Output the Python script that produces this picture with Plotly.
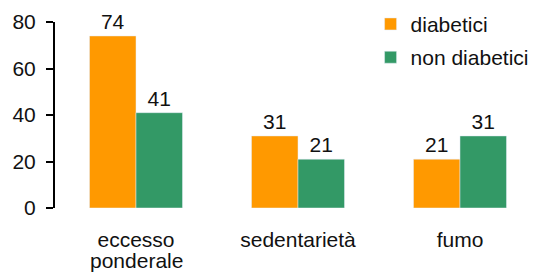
import plotly.graph_objects as go

categories = ["eccesso", "sedentarietà", "fumo"]
categories_line2 = ["ponderale", "", ""]
diabetici = [74, 31, 21]
non_diabetici = [41, 21, 31]
y_ticks = [0, 20, 40, 60, 80]

FONT = "Liberation Sans, Arial, Helvetica, sans-serif"
FS = 21
xs = list(range(len(categories)))

fig = go.Figure()
fig.add_trace(go.Bar(
    x=xs, y=diabetici, name="diabetici", marker_color="#FF9900",
    text=[str(v) for v in diabetici], textposition="outside",
    textfont=dict(size=FS, color="#111111", family=FONT),
    cliponaxis=False, legendgroup="a",
))
fig.add_trace(go.Bar(
    x=xs, y=non_diabetici, name="non diabetici", marker_color="#339966",
    text=[str(v) for v in non_diabetici], textposition="outside",
    textfont=dict(size=FS, color="#111111", family=FONT),
    cliponaxis=False, legendgroup="b",
))

for xi, t in zip(xs, categories_line2):
    if t:
        fig.add_annotation(x=xi, xref="x", y=0, yref="paper", text=t,
                           showarrow=False, yanchor="middle", yshift=-52,
                           font=dict(size=FS, color="#111111", family=FONT))

fig.update_layout(
    width=531, height=267,
    margin=dict(l=47, r=0, t=14, b=67, autoexpand=False),
    paper_bgcolor="white", plot_bgcolor="white",
    font=dict(family=FONT, size=FS, color="#111111"),
    barmode="group", bargap=0.426, bargroupgap=0,
    showlegend=True,
    legend=dict(x=0.652, y=1.098, xanchor="left", yanchor="top",
                bgcolor="rgba(0,0,0,0)", font=dict(size=FS),
                traceorder="grouped", tracegroupgap=3, itemwidth=30),
    xaxis=dict(range=[-0.5, 2.4877], tickvals=xs, ticktext=categories,
               showline=False, showgrid=False, zeroline=False, ticks="",
               automargin=False, ticklabelstandoff=17),
    yaxis=dict(range=[0, 80], tickvals=y_ticks, showline=True, linecolor="black",
               linewidth=2, ticks="outside", ticklen=7, tickwidth=2,
               tickcolor="black", showgrid=False, zeroline=False,
               ticklabelstandoff=6, automargin=False),
)

fig.write_html("out.html")
